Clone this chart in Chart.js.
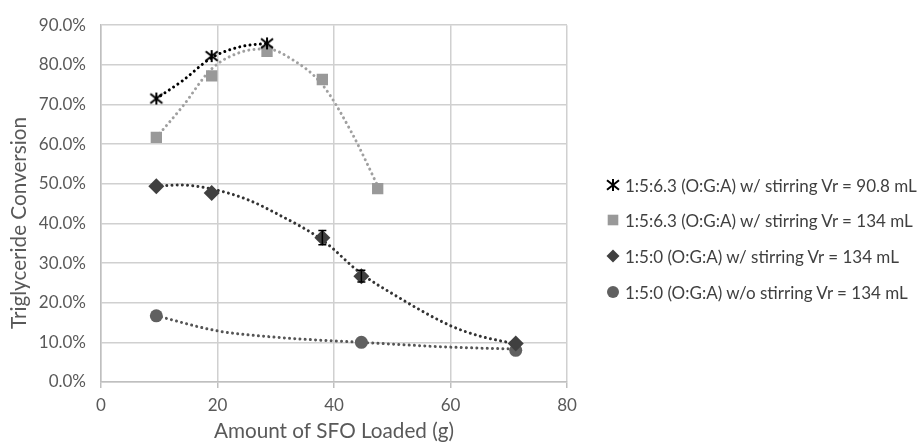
<!DOCTYPE html>
<html>
<head>
<meta charset="utf-8">
<script src="https://cdn.jsdelivr.net/npm/chart.js@4"></script>
<style>
html,body{margin:0;padding:0;background:#fff;}
#wrap{width:919px;height:445px;position:relative;overflow:hidden;}
#legend{position:absolute;left:604px;top:0;font-family:Lato,"Open Sans",sans-serif;font-size:17px;color:#404040;}
#legend .item{position:absolute;left:0;height:20px;white-space:nowrap;display:flex;align-items:center;}
#legend .mk{width:18px;height:18px;display:flex;align-items:center;justify-content:center;margin-right:3px;}
</style>
</head>
<body>
<div id="wrap"><canvas id="c" width="919" height="445"></canvas><div id="legend"></div></div>
<script>
// ---- data ----
const seriesNames = [
  '1:5:6.3 (O:G:A) w/ stirring Vr = 90.8 mL',
  '1:5:6.3 (O:G:A) w/ stirring Vr = 134 mL',
  '1:5:0 (O:G:A) w/ stirring Vr = 134 mL',
  '1:5:0 (O:G:A) w/o stirring Vr = 134 mL'
];
const s1x = [9.5, 19, 28.5];
const s1y = [71.5, 82.2, 85.4];
const s2x = [9.5, 19, 28.5, 38, 47.5];
const s2y = [61.7, 77.2, 83.4, 76.3, 48.8];
const s3x = [9.5, 19, 38, 44.7, 71.2];
const s3y = [49.4, 47.7, 36.4, 26.7, 9.7];
const s3err = [0, 0, 1.8, 1.5, 0];
const s4x = [9.5, 44.7, 71.2];
const s4y = [16.7, 10.0, 8.0];
// trendline curves
const t1x = [9.5, 14, 19, 24, 28.5];
const t1y = [71.5, 76.0, 81.8, 84.6, 85.4];
const t2x = [9.5, 14, 19, 24, 28.5, 33, 38, 43, 47.5];
const t2y = [61.7, 69.5, 79.0, 83.2, 84.0, 81.2, 75.0, 63.0, 49.5];
const t3x = [9.5, 13.6, 19, 25, 30, 38, 44.7, 50, 60, 65, 71.2];
const t3y = [49.4, 49.7, 48.7, 46.1, 42.6, 35.8, 27.3, 22.3, 14.2, 11.6, 9.6];
const t4x = [9.5, 20, 30, 44.7, 60, 71.2];
const t4y = [16.7, 12.9, 11.3, 10.0, 8.8, 8.3];
const xTicks = [0, 20, 40, 60, 80];
const yTicks = [0, 10, 20, 30, 40, 50, 60, 70, 80, 90];
const xTitle = 'Amount of SFO Loaded (g)';
const yTitle = 'Triglyceride Conversion';

const pts = (xs, ys) => xs.map((x, i) => ({x: x, y: ys[i]}));

// custom asterisk marker (X with vertical bar)
function starMarker(size, color, lw) {
  const c = document.createElement('canvas');
  c.width = size + 4; c.height = size + 4;
  const g = c.getContext('2d');
  const m = (size + 4) / 2, r = size / 2;
  g.strokeStyle = color; g.lineWidth = lw; g.lineCap = 'butt';
  g.beginPath();
  g.moveTo(m - r, m - r * 0.8); g.lineTo(m + r, m + r * 0.8);
  g.moveTo(m + r, m - r * 0.8); g.lineTo(m - r, m + r * 0.8);
  g.moveTo(m, m - r); g.lineTo(m, m + r);
  g.stroke();
  return c;
}
const star = starMarker(12, '#000000', 2);

const FONT = 'Lato, "Open Sans", sans-serif';
const TARGET_TOP = 20;

const errorBars = {
  id: 'errorBars',
  afterDatasetsDraw(chart) {
    const ctx = chart.ctx, xs = chart.scales.x, ys = chart.scales.y;
    chart.data.datasets.forEach((ds) => {
      if (!ds.errors) return;
      ctx.save();
      ctx.strokeStyle = '#000'; ctx.lineWidth = 1.5;
      ds.data.forEach((p, i) => {
        const e = ds.errors[i];
        if (!e) return;
        const px = xs.getPixelForValue(p.x);
        const t = ys.getPixelForValue(p.y + e), b = ys.getPixelForValue(p.y - e);
        ctx.beginPath();
        ctx.moveTo(px, t); ctx.lineTo(px, b);
        ctx.moveTo(px - 4, t); ctx.lineTo(px + 4, t);
        ctx.moveTo(px - 4, b); ctx.lineTo(px + 4, b);
        ctx.stroke();
      });
      ctx.restore();
    });
  }
};

const yTitlePlugin = {
  id: 'yTitlePlugin',
  afterDraw(chart) {
    const ctx = chart.ctx;
    ctx.save();
    ctx.translate(19.5, 223);
    ctx.rotate(-Math.PI / 2);
    ctx.fillStyle = '#595959';
    ctx.font = '20.7px ' + FONT;
    ctx.textAlign = 'center';
    ctx.textBaseline = 'middle';
    ctx.fillText(yTitle, 0, 0);
    ctx.restore();
  }
};

const trend = (xs, ys, color) => ({
  type: 'line', label: '', data: pts(xs, ys), isTrend: true,
  borderColor: color, borderWidth: 3, borderDash: [0.01, 5.2], borderCapStyle: 'round',
  pointRadius: 0, tension: 0.4, cubicInterpolationMode: 'monotone', fill: false, order: 10
});

const chart = new Chart(document.getElementById('c'), {
  type: 'scatter',
  data: {
    datasets: [
      {label: seriesNames[0], data: pts(s1x, s1y), pointStyle: star, pointRadius: 7,
       backgroundColor: '#000', borderColor: '#000', order: 1},
      {label: seriesNames[1], data: pts(s2x, s2y), pointStyle: 'rect', pointRadius: 8,
       backgroundColor: '#999999', borderColor: '#999999', borderWidth: 0, order: 2},
      {label: seriesNames[2], data: pts(s3x, s3y), errors: s3err, pointStyle: 'rectRot', pointRadius: 8,
       backgroundColor: '#404040', borderColor: '#404040', borderWidth: 0, order: 3},
      {label: seriesNames[3], data: pts(s4x, s4y), pointStyle: 'circle', pointRadius: 6.5,
       backgroundColor: '#606060', borderColor: '#606060', borderWidth: 0, order: 4},
      trend(t1x, t1y, '#000000'),
      trend(t2x, t2y, '#a0a0a0'),
      trend(t3x, t3y, '#333333'),
      trend(t4x, t4y, '#555555')
    ]
  },
  options: {
    responsive: false,
    animation: false,
    layout: {padding: {top: 10, right: 352, bottom: 0, left: 0}},
    plugins: {
      tooltip: {enabled: false},
      legend: {display: false}
    },
    scales: {
      x: {
        type: 'linear', min: 0, max: 80,
        afterBuildTicks: (s) => { s.ticks = xTicks.map(v => ({value: v})); },
        afterFit: (s) => { s.height = 63; },
        ticks: {color: '#595959', font: {family: FONT, size: 17}, padding: 7, maxRotation: 0},
        grid: {color: '#d0d0d0', lineWidth: 1.5, tickLength: 6, tickColor: '#bfbfbf'},
        border: {color: '#bfbfbf', width: 1.5},
        title: {display: true, text: xTitle, color: '#595959',
                font: {family: FONT, size: 20.7}, padding: {top: 2, bottom: 1}}
      },
      y: {
        min: 0, max: 90,
        afterBuildTicks: (s) => { s.ticks = yTicks.map(v => ({value: v})); },
        afterFit: (s) => { s.width = 101; },
        ticks: {color: '#595959', font: {family: FONT, size: 17}, padding: 15,
                callback: (v) => v.toFixed(1) + '%'},
        grid: {color: '#d0d0d0', lineWidth: 1.5, drawTicks: false},
        border: {color: '#bfbfbf', width: 1.5}
      }
    }
  },
  plugins: [errorBars, yTitlePlugin]
});

// bring the plot area's top edge to where the reference has it
for (let k = 0; k < 3; k++) {
  const diff = chart.chartArea.top - TARGET_TOP;
  if (Math.abs(diff) < 0.5) break;
  chart.options.layout.padding.top = Math.max(0, chart.options.layout.padding.top - diff);
  chart.update('none');
}

// legend built from the chart's own datasets
const legendTops = [185, 220, 256, 292];
const lg = document.getElementById('legend');
chart.data.datasets.filter(d => !d.isTrend).forEach((ds, i) => {
  const item = document.createElement('div');
  item.className = 'item';
  item.style.top = (legendTops[i] - 10) + 'px';
  const mk = document.createElement('span');
  mk.className = 'mk';
  const c = document.createElement('canvas');
  c.width = 18; c.height = 18;
  const g = c.getContext('2d');
  const st = ds.pointStyle;
  const r = st === 'circle' ? 6 : (st === 'rect' ? 7.5 : 6.5);
  g.fillStyle = ds.backgroundColor;
  g.strokeStyle = ds.borderColor;
  Chart.helpers.drawPoint(g, {pointStyle: st, radius: r, rotation: 0, borderWidth: 0}, 9, 9);
  mk.appendChild(c);
  const tx = document.createElement('span');
  tx.textContent = ds.label;
  item.appendChild(mk); item.appendChild(tx);
  lg.appendChild(item);
});
</script>
</body>
</html>
